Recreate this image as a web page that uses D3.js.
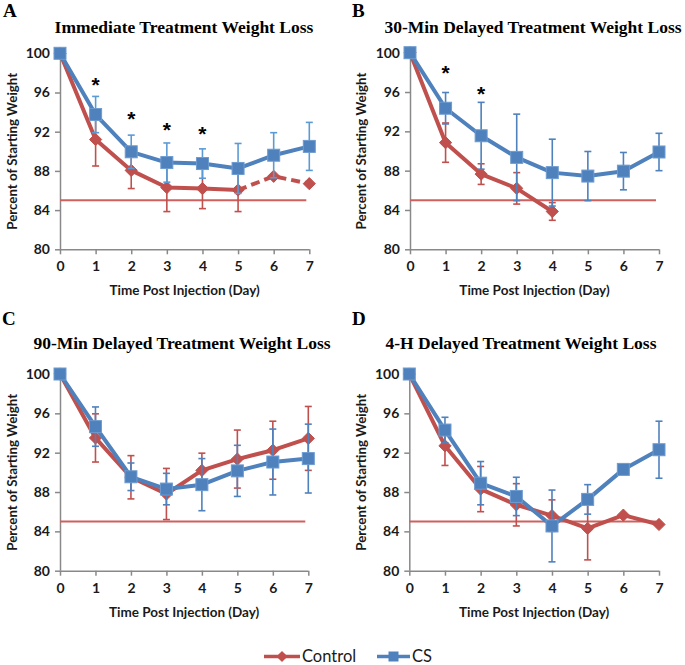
<!DOCTYPE html>
<html>
<head>
<meta charset="utf-8">
<script src="https://cdn.jsdelivr.net/npm/d3@7/dist/d3.min.js"></script>
<style>
  html, body { margin: 0; padding: 0; background: #fff; }
  svg { display: block; }
</style>
</head>
<body>
<svg id="chart" width="685" height="665"></svg>
<script>
// ---------------- DATA ----------------
const days = [0, 1, 2, 3, 4, 5, 6, 7];
const yTicks = [80, 84, 88, 92, 96, 100];
const panelLetters = ["A", "B", "C", "D"];
const titles = [
  "Immediate Treatment Weight Loss",
  "30-Min Delayed Treatment Weight Loss",
  "90-Min Delayed Treatment Weight Loss",
  "4-H Delayed Treatment Weight Loss"
];
const xAxisTitle = "Time Post Injection (Day)";
const yAxisTitle = "Percent of Starting Weight";
const seriesNames = ["Control", "CS"];
const threshold = 85;

const controlA    = [100, 91.2, 88.05, 86.3, 86.2, 86.05, 87.45, 86.7];
const controlAErr = [0, 2.7, 1.85, 2.45, 2.05, 2.2, 0, 0];
const csA         = [100, 93.75, 89.95, 88.85, 88.75, 88.25, 89.6, 90.5];
const csAErr      = [0, 1.85, 1.7, 2.0, 1.5, 2.55, 2.3, 2.45];

const controlB    = [100, 90.85, 87.65, 86.2, 83.85];
const controlBErr = [0, 2.0, 1.05, 1.6, 0.9];
const csB         = [100, 94.35, 91.55, 89.35, 87.8, 87.45, 87.95, 89.9];
const csBErr      = [0, 1.6, 3.4, 4.4, 3.4, 2.5, 1.9, 1.9];

const controlC    = [100, 93.5, 89.5, 87.8, 90.2, 91.35, 92.25, 93.45];
const controlCErr = [0, 2.45, 2.2, 2.6, 1.75, 2.95, 2.95, 3.25];
const csC         = [100, 94.65, 89.55, 88.3, 88.75, 90.15, 91.05, 91.4];
const csCErr      = [0, 2.0, 1.4, 1.6, 2.65, 2.6, 3.35, 3.5];

const controlD    = [100, 92.7, 88.3, 86.7, 85.6, 84.3, 85.65, 84.7];
const controlDErr = [0, 2.0, 2.3, 2.15, 1.6, 3.2, 0, 0];
const csD         = [100, 94.3, 88.9, 87.55, 84.55, 87.25, 90.3, 92.3];
const csDErr      = [0, 1.3, 2.2, 1.95, 3.65, 1.5, 0.4, 2.9];

// dashed segment of control in panel A starts at this day
const controlDashFromA = 5;

// significance markers
const sigDaysA = [1, 2, 3, 4];
const sigYA    = [97.2, 93.7, 92.55, 92.15];
const sigDaysB = [1, 2];
const sigYB    = [98.3, 96.2];

// ---------------- LAYOUT / STYLE ----------------
const RED = "#C0504D", BLUE = "#4F81BD";
const panels = [
  { x0: 60,    x1: 309.3, y0: 53.3, y1: 249.3, titleX: 184, titleY: 33,  letterX: 3,   letterY: 17,  yTitleX: 12,  ctrl: controlA, ctrlErr: controlAErr, cs: csA, csErr: csAErr, dashFrom: controlDashFromA, sigD: sigDaysA, sigY: sigYA, csErrColor: "#5B9BD5" },
  { x0: 410,   x1: 659,   y0: 52.7, y1: 249.3, titleX: 533, titleY: 33,  letterX: 352, letterY: 17,  yTitleX: 361, ctrl: controlB, ctrlErr: controlBErr, cs: csB, csErr: csBErr, dashFrom: null, sigD: sigDaysB, sigY: sigYB, csErrColor: BLUE },
  { x0: 60,    x1: 308.3, y0: 374,  y1: 570.7, titleX: 182, titleY: 349, letterX: 2,   letterY: 325, yTitleX: 12,  ctrl: controlC, ctrlErr: controlCErr, cs: csC, csErr: csCErr, dashFrom: null, sigD: [], sigY: [], csErrColor: BLUE },
  { x0: 409.3, x1: 659,   y0: 374,  y1: 570.7, titleX: 521, titleY: 349, letterX: 352, letterY: 325, yTitleX: 361, ctrl: controlD, ctrlErr: controlDErr, cs: csD, csErr: csDErr, dashFrom: null, sigD: [], sigY: [], csErrColor: BLUE }
];

const svg = d3.select("#chart");
const AXIS = "#898989";
const SANS = "Lato, 'Open Sans', sans-serif";
const SERIF = "'Liberation Serif', 'Times New Roman', serif";

const diamond = d3.symbol().type(d3.symbolDiamond2 || d3.symbolDiamond);

panels.forEach((p, i) => {
  const g = svg.append("g");
  const x = d3.scaleLinear().domain([0, 7]).range([p.x0, p.x1]);
  const y = d3.scaleLinear().domain([80, 100]).range([p.y1, p.y0]);

  // panel letter & title
  g.append("text").attr("x", p.letterX).attr("y", p.letterY)
    .attr("font-family", SERIF).attr("font-weight", "bold").attr("font-size", 19)
    .attr("fill", "#000").text(panelLetters[i]);
  g.append("text").attr("x", p.titleX).attr("y", p.titleY)
    .attr("text-anchor", "middle")
    .attr("font-family", SERIF).attr("font-weight", "bold").attr("font-size", 17.5)
    .attr("fill", "#000").text(titles[i]);

  // axes
  const yAxis = d3.axisLeft(y).tickValues(yTicks).tickSize(5).tickPadding(5);
  const xAxis = d3.axisBottom(x).tickValues(days).tickSize(5).tickPadding(7).tickFormat(d3.format("d"));
  const ya = g.append("g").attr("transform", `translate(${p.x0},0)`).call(yAxis);
  const xa = g.append("g").attr("transform", `translate(0,${p.y1})`).call(xAxis);
  [ya, xa].forEach(a => {
    a.select(".domain").attr("stroke", AXIS).attr("stroke-width", 1.5);
    a.selectAll(".tick line").attr("stroke", AXIS).attr("stroke-width", 1.5);
    a.selectAll(".tick text").attr("font-family", SANS).attr("font-weight", "bold")
      .attr("font-size", 14).attr("fill", "#1a1a1a");
  });
  ya.select(".domain").attr("d", `M0.5,${p.y1}V${p.y0}`);
  xa.select(".domain").attr("d", `M${p.x0},0.5H${p.x1}`);

  // axis titles
  g.append("text").attr("x", (p.x0 + p.x1) / 2).attr("y", p.y1 + 46)
    .attr("text-anchor", "middle").attr("font-family", SANS).attr("font-weight", "bold")
    .attr("font-size", 13.5).attr("fill", "#1a1a1a").text(xAxisTitle);
  g.append("text")
    .attr("transform", `translate(${p.yTitleX + 5},${(p.y0 + p.y1) / 2}) rotate(-90)`)
    .attr("text-anchor", "middle").attr("font-family", SANS).attr("font-weight", "bold")
    .attr("font-size", 13.3).attr("fill", "#1a1a1a").text(yAxisTitle);

  // threshold line
  g.append("line").attr("x1", x(0)).attr("x2", x(7) - 3)
    .attr("y1", y(threshold)).attr("y2", y(threshold))
    .attr("stroke", "#D0605D").attr("stroke-width", 2);

  const line = d3.line().x(d => x(d.day)).y(d => y(d.v));

  function drawSeries(vals, errs, color, errColor, shape, dashFrom) {
    const pts = vals.map((v, k) => ({ day: days[k], v: v, e: errs[k] }));
    const eg = g.append("g");
    pts.filter(d => d.e > 0).forEach(d => {
      eg.append("line").attr("x1", x(d.day)).attr("x2", x(d.day))
        .attr("y1", y(d.v - d.e)).attr("y2", y(d.v + d.e))
        .attr("stroke", errColor).attr("stroke-width", 1.6);
      [d.v - d.e, d.v + d.e].forEach(yy => {
        eg.append("line").attr("x1", x(d.day) - 3.5).attr("x2", x(d.day) + 3.5)
          .attr("y1", y(yy)).attr("y2", y(yy))
          .attr("stroke", errColor).attr("stroke-width", 1.6);
      });
    });
    if (dashFrom != null) {
      const solid = pts.filter(d => d.day <= dashFrom);
      const dashed = pts.filter(d => d.day >= dashFrom);
      g.append("path").attr("d", line(solid)).attr("fill", "none")
        .attr("stroke", color).attr("stroke-width", 4).attr("stroke-linejoin", "round");
      g.append("path").attr("d", line(dashed)).attr("fill", "none")
        .attr("stroke", color).attr("stroke-width", 4).attr("stroke-dasharray", "9,5");
    } else {
      g.append("path").attr("d", line(pts)).attr("fill", "none")
        .attr("stroke", color).attr("stroke-width", 4).attr("stroke-linejoin", "round");
    }
    pts.forEach(d => {
      if (shape === "diamond") {
        g.append("path").attr("d", diamond.size(95)())
          .attr("transform", `translate(${x(d.day)},${y(d.v)})`)
          .attr("fill", color).attr("stroke", color).attr("stroke-width", 1);
      } else {
        g.append("rect").attr("x", x(d.day) - 6).attr("y", y(d.v) - 6)
          .attr("width", 12).attr("height", 12)
          .attr("fill", color).attr("stroke", "#6d9bd0").attr("stroke-width", 1);
      }
    });
  }

  drawSeries(p.ctrl, p.ctrlErr, RED, RED, "diamond", p.dashFrom);
  drawSeries(p.cs, p.csErr, BLUE, p.csErrColor, "square", null);

  p.sigD.forEach((d, k) => {
    g.append("text").attr("x", x(d)).attr("y", y(p.sigY[k]) + 11)
      .attr("text-anchor", "middle").attr("font-family", "'Liberation Sans', Arial, sans-serif")
      .attr("font-weight", "bold").attr("font-size", 21).attr("fill", "#000").text("*");
  });
});

// ---------------- LEGEND ----------------
const lg = svg.append("g");
const legendY = 656.5;
const legendItems = [
  { name: seriesNames[0], color: RED, shape: "diamond", x1: 264, x2: 300, tx: 302 },
  { name: seriesNames[1], color: BLUE, shape: "square", x1: 377, x2: 410, tx: 412 }
];
legendItems.forEach(it => {
  lg.append("line").attr("x1", it.x1).attr("x2", it.x2).attr("y1", legendY).attr("y2", legendY)
    .attr("stroke", it.color).attr("stroke-width", 3.5);
  const cx = (it.x1 + it.x2) / 2;
  if (it.shape === "diamond") {
    lg.append("path").attr("d", diamond.size(80)())
      .attr("transform", `translate(${cx},${legendY})`).attr("fill", it.color);
  } else {
    lg.append("rect").attr("x", cx - 5).attr("y", legendY - 5).attr("width", 10).attr("height", 10)
      .attr("fill", it.color);
  }
  lg.append("text").attr("x", it.tx).attr("y", legendY + 5.5)
    .attr("font-family", SANS).attr("font-size", 16.5).attr("fill", "#1a1a1a").text(it.name);
});
</script>
</body>
</html>
